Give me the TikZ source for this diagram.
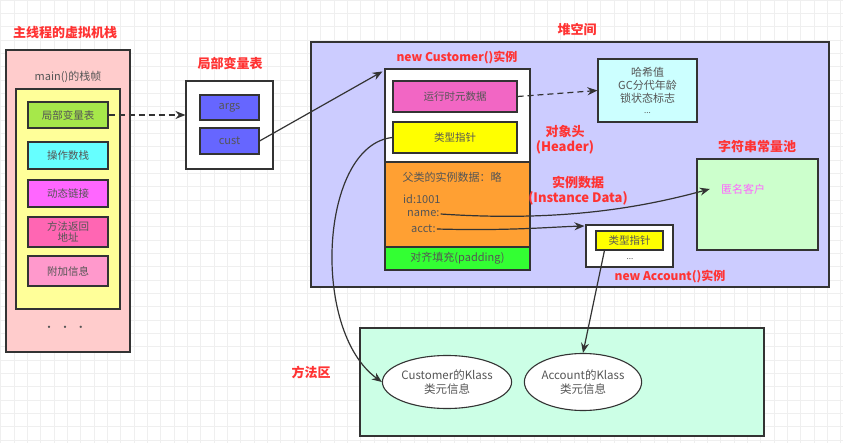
\documentclass[tikz,border=0pt]{standalone}
\usepackage{fontspec}
\setmainfont{Noto Sans CJK SC}
\usetikzlibrary{arrows.meta,shapes.geometric}
\definecolor{gridc}{HTML}{EFEFEF}
\definecolor{edge}{HTML}{333333}
\definecolor{txt}{HTML}{555555}
\definecolor{titlered}{HTML}{FF3333}
\definecolor{stackpink}{HTML}{FFCCCC}
\definecolor{frameyel}{HTML}{FFFF99}
\definecolor{lvgreen}{HTML}{A6E84A}
\definecolor{oscyan}{HTML}{66FFFF}
\definecolor{dlmag}{HTML}{FF66FF}
\definecolor{rapink}{HTML}{FF66B3}
\definecolor{aipink}{HTML}{FF99CC}
\definecolor{slotblue}{HTML}{6666FF}
\definecolor{heapc}{HTML}{CCCCFF}
\definecolor{rtmc}{HTML}{F266C4}
\definecolor{kpyel}{HTML}{FFFF00}
\definecolor{orangec}{HTML}{FFA033}
\definecolor{padgreen}{HTML}{33FF33}
\definecolor{markc}{HTML}{CCFFFF}
\definecolor{poolc}{HTML}{CCFFCC}
\definecolor{methc}{HTML}{CCFFE6}
\definecolor{anonc}{HTML}{FF66FF}
\tikzset{
  bx/.style={draw=edge, line width=1.1pt, inner sep=0pt, text=txt, font=\fontsize{10.5}{12}\selectfont, align=center},
  ttl/.style={text=titlered, font=\bfseries\fontsize{13}{15}\selectfont, inner sep=1pt},
  lbl/.style={text=txt, font=\fontsize{11}{12}\selectfont, inner sep=1pt, align=center},
  conn/.style={draw=edge, line width=1.2pt, -{Stealth[length=10pt,width=8pt]}},
  dconn/.style={conn, dash pattern=on 6pt off 4pt},
}
\begin{document}
\begin{tikzpicture}[x=1pt,y=-1pt]
\useasboundingbox (0,0) rectangle (843,443);
\fill[white] (0,0) rectangle (843,443);
\foreach \i in {0,...,63} \draw[gridc, line width=0.8pt] (0.67+13.333*\i,0) -- (0.67+13.333*\i,443);
\foreach \i in {0,...,33} \draw[gridc, line width=0.8pt] (0,13.333*\i) -- (843,13.333*\i);

% stack
\node[ttl] (t1) at (65,33) {主线程的虚拟机栈};
\node[bx, fill=stackpink, minimum width=124pt, minimum height=302pt] (stack) at (68,201) {};
\node[lbl] (mf) at (68,77) {main()的栈帧};
\node[bx, fill=frameyel, minimum width=104pt, minimum height=220pt] (frame) at (68,199) {};
\node[bx, fill=lvgreen, minimum width=80pt, minimum height=26pt] (lv) at (68,115) {局部变量表};
\node[bx, fill=oscyan, minimum width=80pt, minimum height=27pt] (os) at (68,155.5) {操作数栈};
\node[bx, fill=dlmag, minimum width=80pt, minimum height=27pt] (dl) at (68,193.5) {动态链接};
\node[bx, fill=rapink, minimum width=80pt, minimum height=30pt] (ra) at (68,232) {方法返回\\[-1pt]地址};
\node[bx, fill=aipink, minimum width=80pt, minimum height=30pt] (ai) at (68,271) {附加信息};
\node[lbl] (dots1) at (65,329) {·\ \ ·\ \ ·};

% local variable table
\node[ttl] (t2) at (230,63) {局部变量表};
\node[bx, fill=white, minimum width=87pt, minimum height=88pt] (lvt) at (229.5,125) {};
\node[bx, fill=slotblue, minimum width=59pt, minimum height=25pt, font=\fontsize{11}{12}\selectfont] (args) at (229.5,107.5) {args};
\node[bx, fill=slotblue, minimum width=59pt, minimum height=26pt, font=\fontsize{11}{12}\selectfont] (cust) at (229.5,141) {cust};

% heap
\node[ttl] (t3) at (577,30) {堆空间};
\node[bx, fill=heapc, minimum width=518pt, minimum height=245pt] (heap) at (570,164.5) {};
\node[ttl, font=\bfseries\fontsize{12}{14}\selectfont] (t4) at (457,58) {new Customer()实例};
\node[bx, fill=white, minimum width=145pt, minimum height=93pt] (cobj) at (457.5,115.5) {};
\node[bx, fill=orangec, minimum width=145pt, minimum height=85pt] (cdata) at (457.5,204.5) {};
\node[bx, fill=padgreen, minimum width=145pt, minimum height=23pt, font=\fontsize{11}{12}\selectfont] (cpad) at (457.5,258.5) {对齐填充(padding)};
\node[bx, fill=rtmc, minimum width=124pt, minimum height=31pt] (rtm) at (455,96.5) {运行时元数据};
\node[bx, fill=kpyel, minimum width=124pt, minimum height=31pt] (ckp) at (455,137.5) {类型指针};
\node[lbl] (super) at (452,177) {父类的实例数据：略};
\node[lbl, anchor=west] (fid) at (402,199) {id:1001};
\node[lbl, anchor=west] (fname) at (406,214) {name:};
\node[lbl, anchor=west] (facct) at (410,229) {acct:};

\node[bx, fill=markc, minimum width=99pt, minimum height=63pt, font=\fontsize{11}{13}\selectfont] (mark) at (647.5,90.5) {哈希值\\GC分代年龄\\锁状态标志\\[-2pt]{\fontsize{8}{8}\selectfont ...}};
\node[ttl] (t5) at (565,132) {对象头};
\node[ttl] (t6) at (565,147) {(Header)};
\node[ttl] (t7) at (578,182) {实例数据};
\node[ttl] (t8) at (578,198) {(Instance Data)};

\node[ttl] (t9) at (757,147) {字符串常量池};
\node[bx, fill=poolc, minimum width=121pt, minimum height=91pt] (pool) at (757.5,204.5) {};
\node[lbl, text=anonc] (anon) at (743,189) {匿名客户};

\node[bx, fill=white, minimum width=87pt, minimum height=42pt] (aobj) at (629.5,246) {};
\node[bx, fill=kpyel, minimum width=67pt, minimum height=19pt] (akp) at (629.5,240.5) {类型指针};
\node[lbl, font=\fontsize{8}{8}\selectfont] (adots) at (630,259) {...};
\node[ttl, font=\bfseries\fontsize{12}{14}\selectfont] (t10) at (670,277) {new Account()实例};

% method area
\node[ttl] (t11) at (311,372) {方法区};
\node[bx, fill=methc, minimum width=404pt, minimum height=108pt] (meth) at (562,382) {};
\node[bx, fill=white, ellipse, minimum width=119pt, minimum height=53pt, font=\fontsize{11.5}{13.5}\selectfont] (e1) at (447,382) {Customer的Klass\\类元信息};
\node[bx, fill=white, ellipse, minimum width=110pt, minimum height=57pt, font=\fontsize{11.5}{13.5}\selectfont] (e2) at (583,382) {Account的Klass\\类元信息};

% connectors
\draw[dconn] (lv.east) -- (lvt.west |- lv.east);
\draw[conn] (cust.east) -- ([xshift=-2pt,yshift=-3pt]cobj.north west);
\draw[dconn] (rtm.east) -- (mark.west);
\draw[conn] (fname.east) .. controls (560,222) and (640,208) .. ([xshift=-10pt]anon.west);
\draw[conn] (facct.east) .. controls (510,231) and (550,227) .. ([xshift=-1pt,yshift=20pt]aobj.west);
\draw[conn] (ckp.west) .. controls (320,145) and (310,330) .. (e1.west);
\draw[conn] ([xshift=9pt]akp.south west) -- (e2.north);
\end{tikzpicture}
\end{document}
